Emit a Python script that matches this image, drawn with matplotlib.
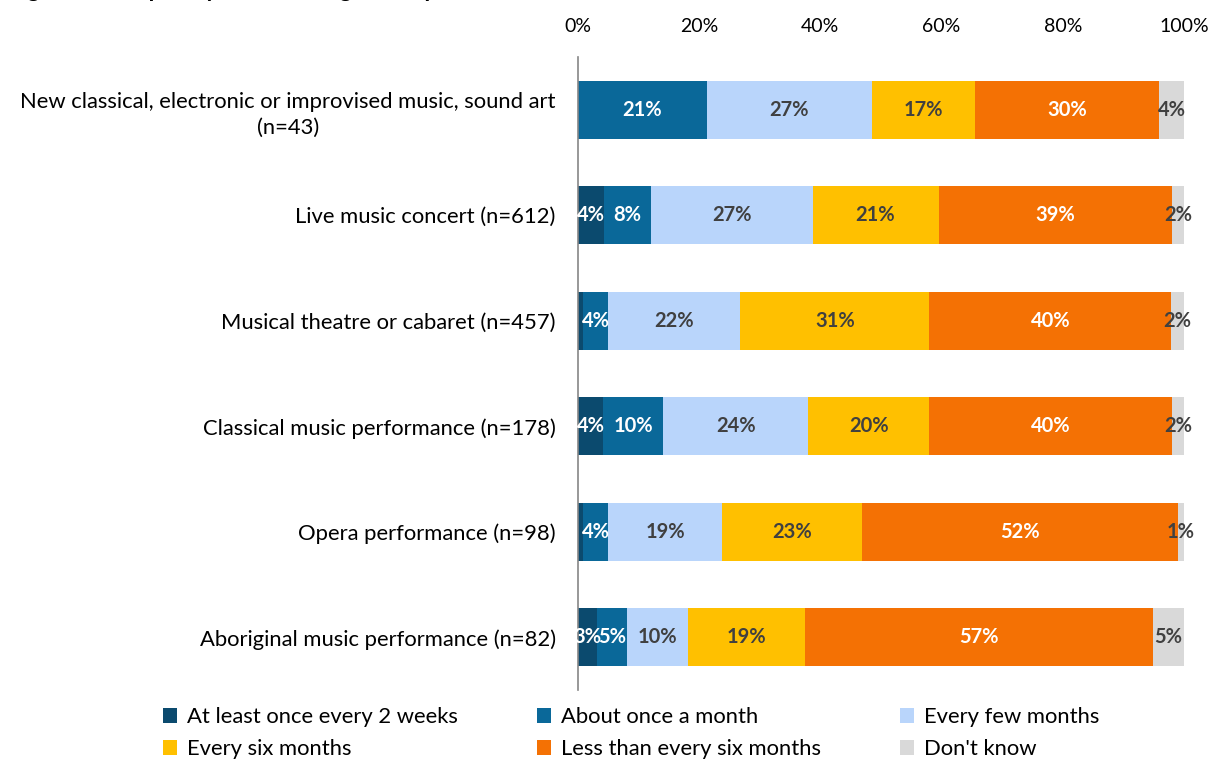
import matplotlib
matplotlib.use("Agg")
import matplotlib.pyplot as plt
import numpy as np

plt.rcParams['font.family'] = ['Lato', 'DejaVu Sans']

categories = [
    "New classical, electronic or improvised music, sound art\n(n=43)",
    "Live music concert (n=612)",
    "Musical theatre or cabaret (n=457)",
    "Classical music performance (n=178)",
    "Opera performance (n=98)",
    "Aboriginal music performance (n=82)",
]
series = ["At least once every 2 weeks", "About once a month", "Every few months",
          "Every six months", "Less than every six months", "Don't know"]
at_least_2wk = [0.0, 4.3, 0.9, 4.2, 0.9, 3.1]
once_month   = [21.3, 7.8, 4.1, 9.9, 4.1, 5.0]
few_months   = [27.2, 26.6, 21.8, 23.9, 18.8, 10.1]
six_months   = [17.0, 20.8, 31.2, 20.0, 23.1, 19.3]
less_six     = [30.4, 38.6, 39.9, 40.0, 52.1, 57.4]
dont_know    = [4.1, 1.9, 2.1, 2.0, 1.0, 5.1]
tick_labels = ["0%", "20%", "40%", "60%", "80%", "100%"]

values = [at_least_2wk, once_month, few_months, six_months, less_six, dont_know]
colors = ["#0B4A6E", "#0A6899", "#B9D5FB", "#FFC000", "#F47104", "#D9D9D9"]
txt_colors = ["white", "white", "#404040", "#404040", "white", "#404040"]

W, H = 1214, 760
fig = plt.figure(figsize=(W / 100, H / 100), dpi=100)
ax = fig.add_axes([578 / W, 1 - 690 / H, (1184 - 578) / W, (690 - 57) / H])

y = np.arange(len(categories))
left = np.zeros(len(categories))
handles = []
for vals, col, tcol, name in zip(values, colors, txt_colors, series):
    vals = np.array(vals)
    bars = ax.barh(y, vals, left=left, height=0.55, color=col, label=name, linewidth=0)
    handles.append(bars)
    for yi, (l, v) in enumerate(zip(left, vals)):
        if v >= 0.95 and not (name == series[0] and v < 2):
            ax.text(l + v / 2, yi, f"{round(v):d}%", ha='center', va='center',
                    color=tcol, fontsize=14.5, fontweight='bold')
    left += vals

ax.set_xlim(0, 100)
ax.set_ylim(len(categories) - 0.5, -0.5)
ax.set_xticks([0, 20, 40, 60, 80, 100])
ax.set_xticklabels(tick_labels)
ax.xaxis.tick_top()
ax.tick_params(axis='x', length=0, pad=16, labelsize=14, colors='black')
ax.set_yticks(y)
ax.set_yticklabels(categories, fontsize=15.8, multialignment='center', linespacing=1.4)
ax.tick_params(axis='y', length=0, pad=16)
for s in ['top', 'right', 'bottom']:
    ax.spines[s].set_visible(False)
ax.spines['left'].set_color('#868686')
ax.spines['left'].set_linewidth(1.2)

# row-major order for legend (matplotlib fills columns first)
order = [0, 3, 1, 4, 2, 5]
fig.legend(handles=[handles[i] for i in order], labels=[series[i] for i in order],
           ncol=3, loc='upper left',
           bbox_to_anchor=(163 / W, 1 - 707 / H), frameon=False, fontsize=15.8,
           handlelength=0.65, handleheight=0.65, handletextpad=0.45,
           columnspacing=3.6, labelspacing=0.55, borderaxespad=0, borderpad=0)

fig.text(8 / W, 1 + 3 / H, "Figure 8: Frequency of attending music performances",
         fontsize=17, fontweight='bold', va='baseline', ha='left')

fig.savefig("out.png", dpi=100)
